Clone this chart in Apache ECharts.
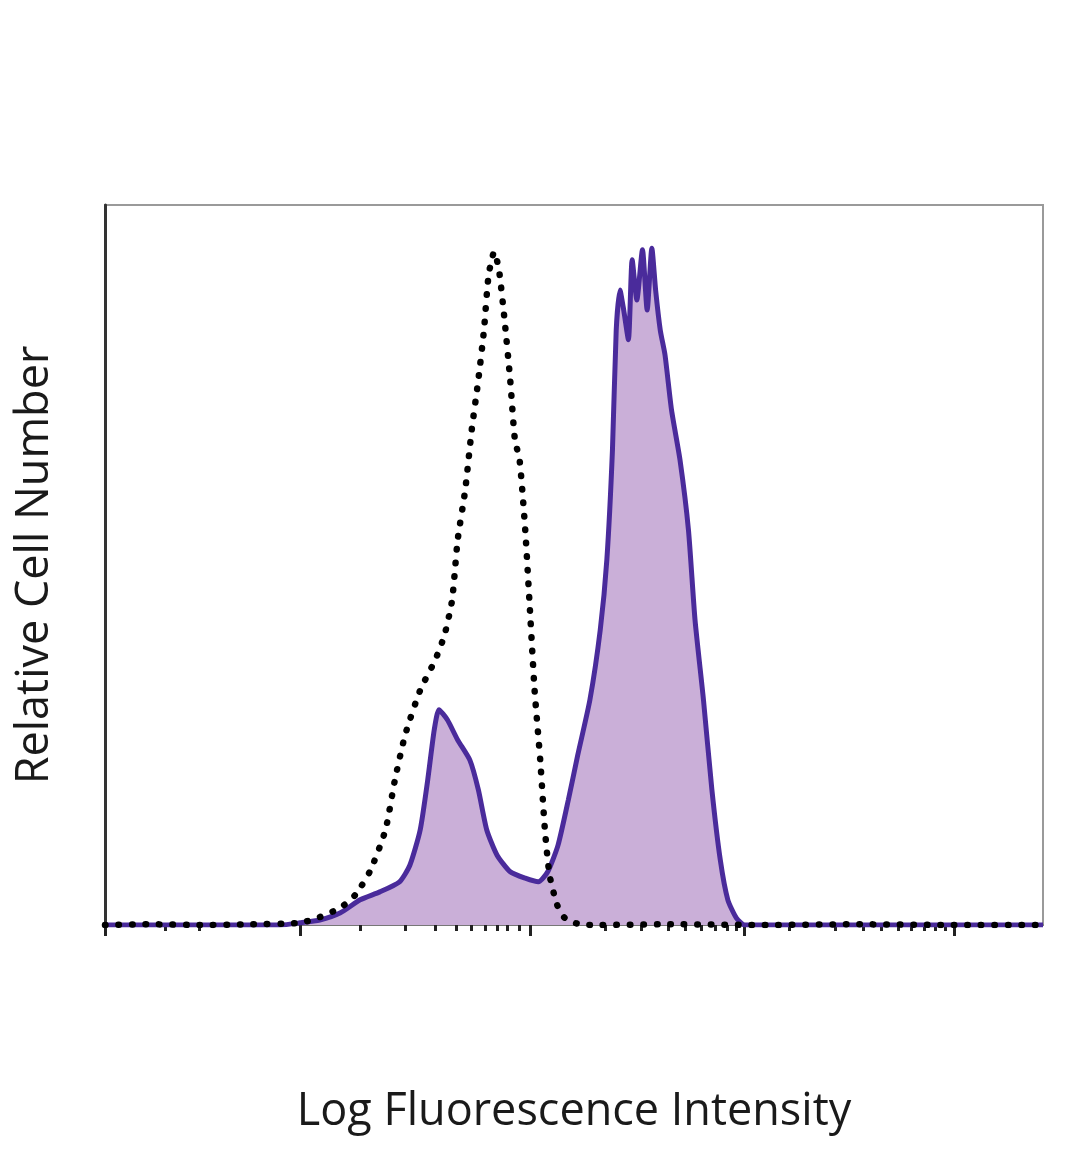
<!DOCTYPE html>
<html>
<head>
<meta charset="utf-8">
<script src="https://cdn.jsdelivr.net/npm/echarts@6/dist/echarts.min.js"></script>
<style>
html,body{margin:0;padding:0;background:#fff;}
#chart{width:1080px;height:1169px;}
</style>
</head>
<body>
<div id="chart"></div>
<script>
// Channel units 0-1000 (log fluorescence), relative counts 0-100
const controlX = [0,48,101,155,208,229,251,267,283,299,309,320,336,352,362,370,376,384,391,398,404,409,415,420,426,432,437,442,448,453,458,464,469,474,482,490,506,528,600,700,800,900,1000];
const controlY = [0,0.1,0,0.1,0.3,1.1,2.4,4.2,7.6,13.2,20.1,26.4,32.6,36.8,40.3,45.1,53.5,60.4,68.8,75.7,82.6,90.3,93.5,91.0,84.0,75.7,67.4,64.6,54.9,43.8,32.6,22.9,13.2,6.9,2.8,1.0,0.1,0,0.1,0,0.1,0,0];

const sampleX = [0,101,187,208,229,251,272,293,314,325,336,344,351,356,365,376,389,398,407,418,432,448,462,472,483,494,504,517,528,535,541,545,549,553,558,562,567,573,578,583,587,592,597,604,613,622,629,638,647,656,664,673,682,800,900,1000];
const sampleY = [0,0,0,0.3,0.7,1.7,3.5,4.6,6.0,8.3,13.2,20.1,27.1,29.9,28.5,25.7,22.9,18.8,13.2,9.7,7.4,6.5,6.0,7.4,11.1,17.4,23.6,31.3,41.0,50.7,66.0,82.6,88.2,85.4,81.3,92.4,86.8,93.8,85.4,94.0,88.2,82.6,79.2,71.5,64.6,54.9,42.4,31.3,18.8,9.0,3.5,1.0,0,0,0,0];

const majorTicks = [0,208,453,682,905];
const minorTicks = [64,101,272,320,352,374,390,405,418,429,442,533,572,600,619,636,651,663,673,730,778,808,828,846,860,873,885,896];

const xTitle = 'Log Fluorescence Intensity';
const yTitle = 'Relative Cell Number';

const zip = (xs, ys) => xs.map((x, i) => [x, ys[i]]);

const chart = echarts.init(document.getElementById('chart'));
const font = '"Open Sans", "Noto Sans", sans-serif';
chart.setOption({
  animation: false,
  grid: {left: 105, top: 205, right: 37, bottom: 244, show: true, borderColor: '#9a9a9a', borderWidth: 2, backgroundColor: '#fff'},
  xAxis: [
    {type: 'value', min: 0, max: 1000, position: 'bottom',
     axisLine: {show: true, lineStyle: {color: '#777', width: 2}},
     axisTick: {show: true, inside: false, length: 11, customValues: majorTicks, lineStyle: {color: '#222', width: 3}},
     axisLabel: {show: false, customValues: majorTicks},
     splitLine: {show: false},
     name: xTitle, nameLocation: 'middle', nameGap: 165,
     nameTextStyle: {fontFamily: font, fontSize: 45, color: '#1a1a1a'}},
    {type: 'value', min: 0, max: 1000, position: 'bottom',
     axisLine: {show: false},
     axisTick: {show: true, length: 6, customValues: minorTicks, lineStyle: {color: '#222', width: 3}},
     axisLabel: {show: false, customValues: minorTicks},
     splitLine: {show: false}}
  ],
  yAxis: {type: 'value', min: 0, max: 100,
    axisLine: {show: true, lineStyle: {color: '#333', width: 3}},
    axisTick: {show: false}, axisLabel: {show: false}, splitLine: {show: false},
    name: yTitle, nameLocation: 'middle', nameGap: 47, nameRotate: 90,
    nameTextStyle: {fontFamily: font, fontSize: 45, color: '#1a1a1a'}},
  series: [
    {name: 'Sample', type: 'line', data: zip(sampleX, sampleY), symbol: 'none', smooth: 0.2,
     lineStyle: {color: '#4a2b9b', width: 5},
     areaStyle: {color: '#caafd8', opacity: 1}, z: 2},
    {name: 'Control', type: 'line', data: zip(controlX, controlY), symbol: 'none', smooth: 0.2,
     lineStyle: {color: '#000', width: 6.5, type: [0.5, 13], cap: 'round'}, z: 3}
  ]
});
</script>
</body>
</html>
